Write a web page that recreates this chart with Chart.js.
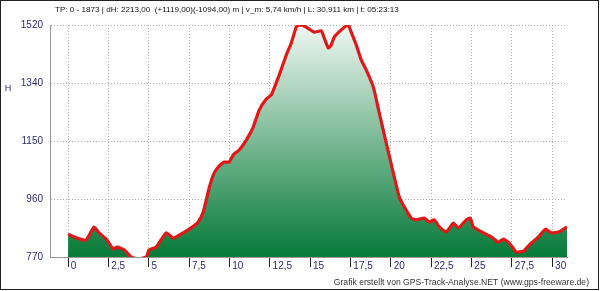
<!DOCTYPE html>
<html>
<head>
<meta charset="utf-8">
<script src="https://cdn.jsdelivr.net/npm/chart.js@4"></script>
<style>
  html, body { margin: 0; padding: 0; background: #fff; }
  #wrap { width: 600px; height: 291px; }
</style>
</head>
<body>
<div id="wrap"><canvas id="myChart" width="600" height="291"></canvas></div>
<script>
// distance in km
const km = [0, 0.56, 1.12, 1.61, 1.92, 2.36, 2.79, 3.04, 3.47, 3.91,
  4.28, 4.84, 5.02, 5.46, 6.08, 6.51, 7.13, 7.63, 8.06, 8.37,
  8.56, 8.74, 8.99, 9.30, 9.67, 9.98, 10.23, 10.60, 11.04, 11.47,
  11.84, 12.28, 12.59, 13.08, 13.52, 13.83, 14.14, 14.32, 14.63, 14.94,
  15.25, 15.69, 15.87, 16.12, 16.30, 16.49, 16.92, 17.36, 17.54, 17.86,
  18.16, 18.47, 18.91, 19.28, 19.71, 20.15, 20.52, 20.83, 21.26, 21.57,
  22.07, 22.38, 22.69, 23.00, 23.43, 23.87, 24.18, 24.67, 24.92, 25.11,
  25.73, 26.22, 26.66, 26.97, 27.34, 27.77, 28.21, 28.58, 29.14, 29.57,
  29.94, 30.38, 30.91];

// height in m
const hoehe = [844, 831, 825, 867, 848, 828, 796, 802, 793, 770,
  764, 770, 793, 802, 848, 831, 848, 864, 883, 915,
  954, 993, 1035, 1061, 1077, 1077, 1100, 1116, 1148, 1190,
  1245, 1281, 1294, 1358, 1423, 1462, 1514, 1520, 1517, 1507,
  1497, 1501, 1478, 1446, 1455, 1481, 1504, 1520, 1497, 1455,
  1407, 1375, 1320, 1236, 1139, 1042, 964, 932, 896, 890,
  896, 883, 890, 867, 851, 880, 864, 890, 896, 867,
  848, 835, 818, 828, 815, 786, 789, 809, 835, 860,
  848, 851, 867];

const xTicks = [0, 2.5, 5, 7.5, 10, 12.5, 15, 17.5, 20, 22.5, 25, 27.5, 30];
const xTickLabels = ['0', '2,5', '5', '7,5', '10', '12,5', '15', '17,5', '20', '22,5', '25', '27,5', '30'];
const yTicks = [770, 957.5, 1145, 1332.5, 1520];
const yTickLabels = ['770', '960', '1150', '1340', '1520'];

const titleText = 'TP: 0 - 1873 | dH: 2213,00  (+1119,00)(-1094,00) m | v_m: 5,74 km/h | L: 30,911 km | t: 05:23:13';
const footerText = 'Grafik erstellt von GPS-Track-Analyse.NET (www.gps-freeware.de)';

const navy = '#2b2b70';

// title, footer, "H" label and outer frame
const extras = {
  id: 'extras',
  afterDraw(chart) {
    const ctx = chart.ctx;
    ctx.save();
    ctx.fillStyle = '#111';
    ctx.font = '8.1px "Liberation Sans", Arial, sans-serif';
    ctx.textBaseline = 'middle';
    ctx.textAlign = 'left';
    ctx.fillText(titleText, 55, 10);

    ctx.fillStyle = '#333';
    ctx.font = '8.6px "Liberation Sans", Arial, sans-serif';
    ctx.textAlign = 'right';
    ctx.fillText(footerText, 589, 283);

    ctx.fillStyle = navy;
    ctx.font = '9px "Liberation Sans", Arial, sans-serif';
    ctx.textAlign = 'center';
    ctx.fillText('H', 8, 89);

    ctx.strokeStyle = '#222';
    ctx.lineWidth = 1;
    ctx.strokeRect(0.5, 0.5, 598, 289);
    ctx.restore();
  }
};

new Chart(document.getElementById('myChart'), {
  type: 'line',
  data: {
    datasets: [{
      data: km.map((k, i) => ({ x: k, y: hoehe[i] })),
      borderColor: '#e01818',
      borderWidth: 3.2,
      pointRadius: 0,
      tension: 0.15,
      fill: 'start',
      backgroundColor: (c) => {
        const area = c.chart.chartArea;
        if (!area) return null;
        const g = c.chart.ctx.createLinearGradient(0, area.top, 0, area.bottom);
        g.addColorStop(0, '#eef7f2');
        g.addColorStop(1, '#067a38');
        return g;
      }
    }]
  },
  options: {
    responsive: false,
    animation: false,
    layout: { padding: { left: 0, right: 33, top: 25, bottom: 0 } },
    plugins: {
      legend: { display: false },
      tooltip: { enabled: false }
    },
    scales: {
      x: {
        type: 'linear',
        min: -1.12,
        max: 30.911,
        afterBuildTicks: (s) => { s.ticks = xTicks.map(v => ({ value: v })); },
        afterFit: (s) => { s.height = 34; },
        grid: {
          color: '#b0b0b0',
          lineWidth: 1,
          drawTicks: true,
          tickLength: 10,
          tickColor: '#222',
          tickWidth: 1
        },
        border: { display: true, color: '#999', dash: [1, 2] },
        ticks: {
          align: 'start',
          padding: -7,
          color: navy,
          font: { family: '"Liberation Sans", Arial, sans-serif', size: 10 },
          autoSkip: false,
          maxRotation: 0,
          callback: (v, i) => ' ' + xTickLabels[i]
        }
      },
      y: {
        min: 770,
        max: 1520,
        afterBuildTicks: (s) => { s.ticks = yTicks.map(v => ({ value: v })); },
        afterFit: (s) => { s.width = 50; },
        grid: { color: '#b0b0b0', lineWidth: 1, drawTicks: false },
        border: { display: true, color: '#999', dash: [1, 2] },
        ticks: {
          padding: 7,
          color: navy,
          font: { family: '"Liberation Sans", Arial, sans-serif', size: 10 },
          callback: (v, i) => yTickLabels[i]
        }
      }
    }
  },
  plugins: [extras]
});
</script>
</body>
</html>
